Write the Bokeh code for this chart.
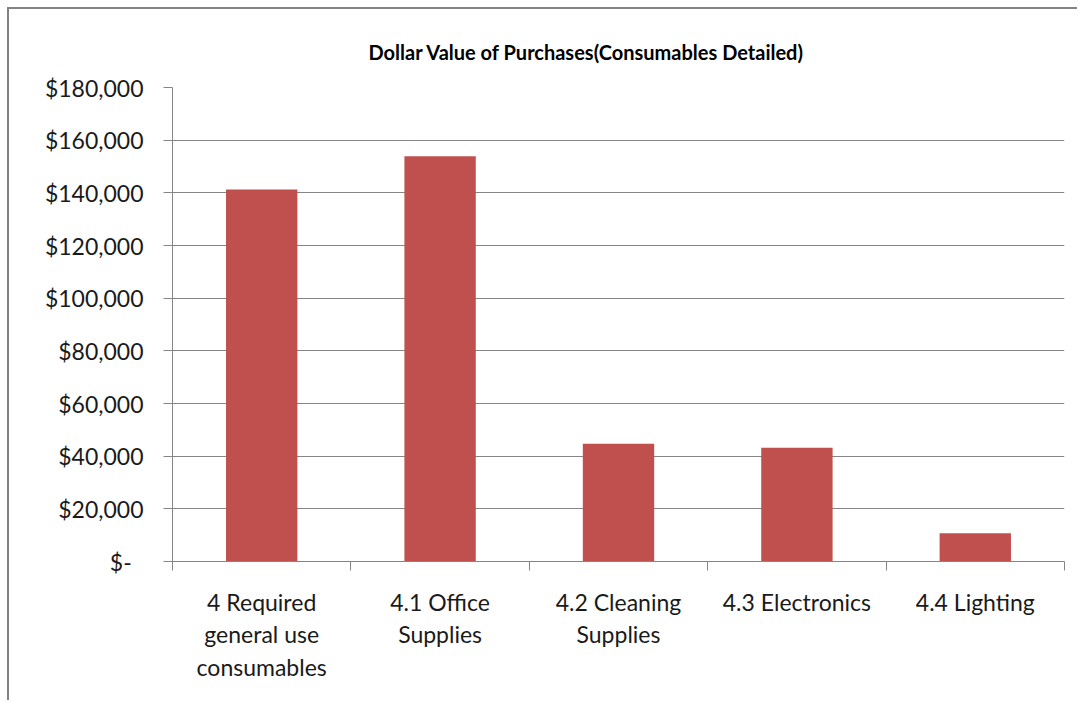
from bokeh.plotting import figure
from bokeh.models import FixedTicker, CustomJSTickFormatter, Range1d, ColumnDataSource
from bokeh.embed import file_html
from bokeh.resources import INLINE

categories = ["4 Required general use consumables", "4.1 Office Supplies",
              "4.2 Cleaning Supplies", "4.3 Electronics", "4.4 Lighting"]
tick_labels = ["4 Required\ngeneral use\nconsumables", "4.1 Office\nSupplies",
               "4.2 Cleaning\nSupplies", "4.3 Electronics", "4.4 Lighting"]
values = [141300, 153900, 44700, 43200, 10700]
y_ticks = [0, 20000, 40000, 60000, 80000, 100000, 120000, 140000, 160000, 180000]
title_text = "Dollar Value of Purchases(Consumables Detailed)"

FONT = "Lato"
GRID = "#868686"
BAR = "#C0504D"

n = len(categories)
xs = [i + 0.5 for i in range(n)]
src = ColumnDataSource(dict(x=xs, top=values, cat=categories))

p = figure(width=1070, height=693,
           x_range=Range1d(0, n), y_range=Range1d(0, y_ticks[-1]),
           output_backend="svg", toolbar_location=None,
           min_border_left=163, min_border_right=15,
           min_border_top=78, min_border_bottom=141)
p.styles = {"margin-left": "7px", "margin-top": "7px",
            "border-left": "2px solid #838383", "border-top": "2px solid #838383"}

p.vbar(x="x", top="top", width=0.4, source=src, fill_color=BAR, line_color=None)

p.title.text = title_text
p.title.text_font = FONT
p.title.text_font_style = "bold"
p.title.text_font_size = "20px"
p.title.text_color = "#000000"
p.title.align = "left"
p.title.offset = 196
p.title.standoff = 48

p.outline_line_color = None
p.background_fill_color = "white"
p.border_fill_color = "white"

# y axis
ya = p.yaxis[0]
ya.ticker = FixedTicker(ticks=y_ticks, minor_ticks=[])
ya.formatter = CustomJSTickFormatter(code="""
    if (tick == 0) { return "$-\u00a0\u00a0"; }
    return "$" + tick.toLocaleString("en-US");
""")
ya.axis_line_color = GRID
ya.major_tick_line_color = GRID
ya.major_tick_out = 9
ya.major_tick_in = 0
ya.minor_tick_line_color = None
ya.major_label_text_font = FONT
ya.major_label_text_font_size = "23px"
ya.major_label_text_color = "#1a1a1a"
ya.major_label_standoff = 20

# x axis: labels at centers, ticks between categories
xa = p.xaxis[0]
xa.ticker = FixedTicker(ticks=xs, minor_ticks=list(range(n + 1)))
xa.major_label_overrides = {x: lbl for x, lbl in zip(xs, tick_labels)}
xa.axis_line_color = GRID
xa.major_tick_line_color = None
xa.major_tick_out = 0
xa.major_tick_in = 0
xa.minor_tick_line_color = GRID
xa.minor_tick_out = 9
xa.minor_tick_in = 0
xa.major_label_text_font = FONT
xa.major_label_text_font_size = "23px"
xa.major_label_text_color = "#1a1a1a"
xa.major_label_text_line_height = 1.17
xa.major_label_standoff = 17

p.xgrid.grid_line_color = None
p.ygrid.grid_line_color = GRID
p.ygrid.ticker = FixedTicker(ticks=y_ticks)

open("out.html", "w").write(file_html(p, INLINE))
